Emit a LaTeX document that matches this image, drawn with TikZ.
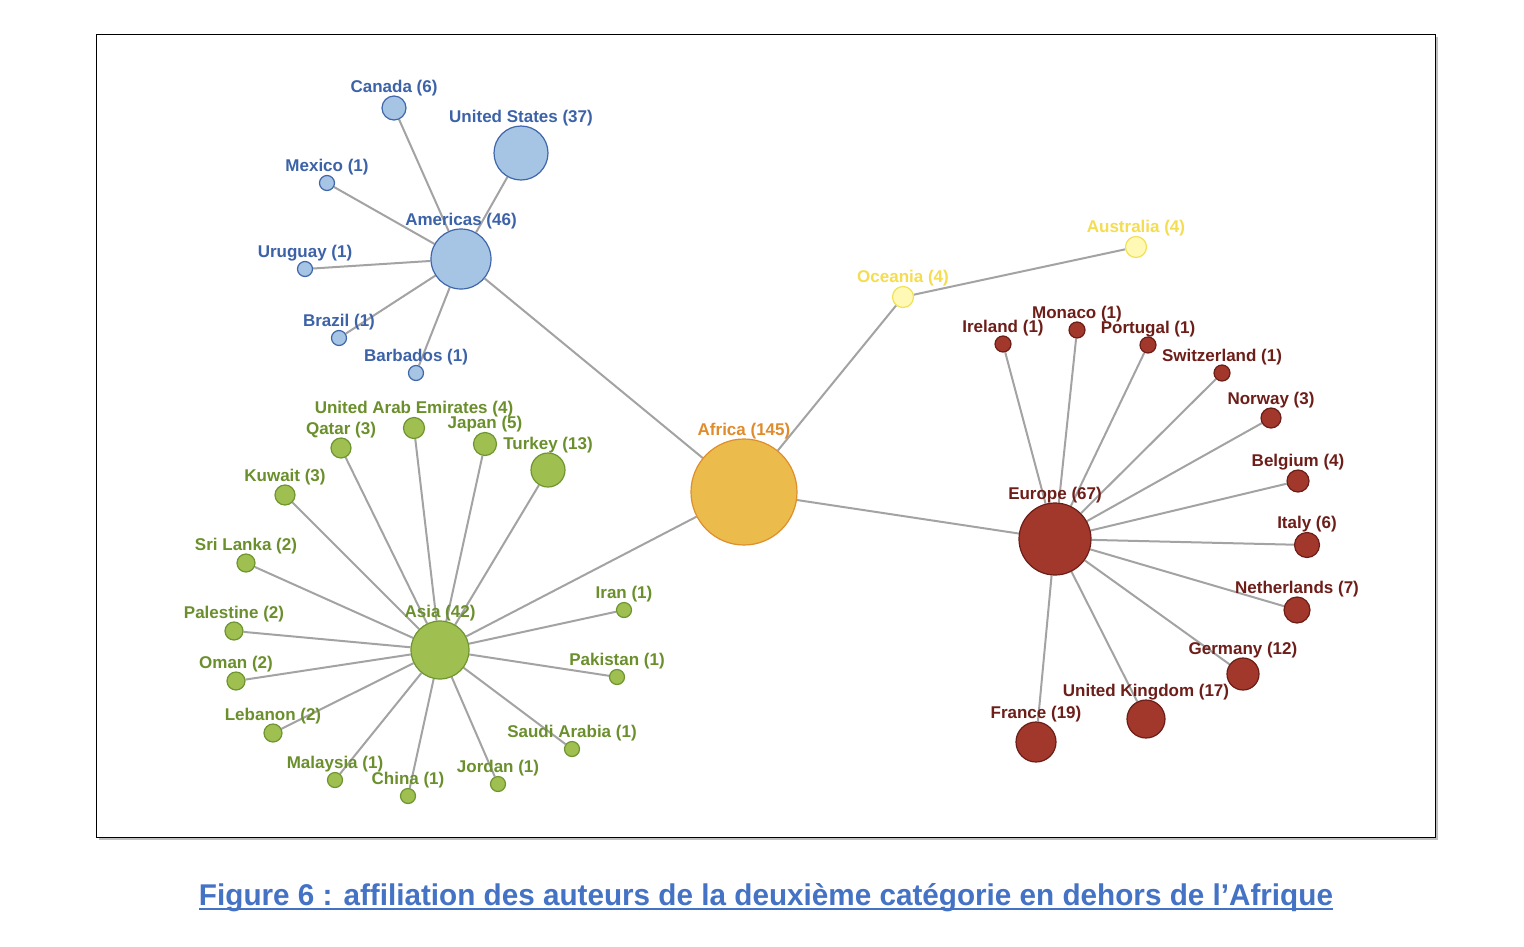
\documentclass[tikz,border=0pt]{standalone}
\usepackage{fontspec}
\setmainfont{Liberation Sans}
\usetikzlibrary{backgrounds}
\definecolor{amfill}{HTML}{A6C4E3}\definecolor{amdraw}{HTML}{3F66AA}\definecolor{amtext}{HTML}{3C62A8}
\definecolor{asfill}{HTML}{9FC051}\definecolor{asdraw}{HTML}{6E9530}\definecolor{astext}{HTML}{6A8F2C}
\definecolor{affill}{HTML}{EBBB4B}\definecolor{afdraw}{HTML}{DF8E2C}\definecolor{aftext}{HTML}{E08C2C}
\definecolor{ocfill}{HTML}{FFF9B5}\definecolor{ocdraw}{HTML}{F2E055}\definecolor{octext}{HTML}{F4DD50}
\definecolor{eufill}{HTML}{A2382B}\definecolor{eudraw}{HTML}{6B1D17}\definecolor{eutext}{HTML}{6D1E19}
\definecolor{edgegray}{HTML}{A3A3A3}\definecolor{captext}{HTML}{4472C4}
\tikzset{
  dot/.style={circle,inner sep=0pt,line width=1.2pt},
  am/.style={dot,fill=amfill,draw=amdraw},
  as/.style={dot,fill=asfill,draw=asdraw},
  af/.style={dot,fill=affill,draw=afdraw},
  oc/.style={dot,fill=ocfill,draw=ocdraw},
  eu/.style={dot,fill=eufill,draw=eudraw},
  am-t/.style={text=amtext},
  as-t/.style={text=astext},
  af-t/.style={text=aftext},
  oc-t/.style={text=octext},
  eu-t/.style={text=eutext},
  lab/.style={inner sep=0pt,anchor=base,font=\fontsize{17}{20}\selectfont\bfseries},
  link/.style={draw=edgegray,line width=2pt}
}
% \mkcountry{name}{x}{y}{r}{group}{text}
\newcommand\mkcountry[6]{%
  \node[#5,minimum size=#4*2pt] (#1) at (#2,#3) {};
  \node[lab,#5-t] (#1-l) at ([yshift=3pt]#1.north) {#6};
}
\begin{document}
\begin{tikzpicture}[x=1pt,y=-1pt]
\useasboundingbox (0,0) rectangle (1524,946);
\begin{pgfonlayer}{background}
\fill[white] (0,0) rectangle (1524,946);
\fill[black!25] (99,37) rectangle (1438,840);
\draw[fill=white,line width=0.8pt] (96,34) rectangle (1435,837);
\end{pgfonlayer}
% Americas
\mkcountry{amer}{461}{259}{30}{am}{Americas (46)}
\mkcountry{us}{521}{153}{27}{am}{United States (37)}
\mkcountry{can}{394}{108}{12}{am}{Canada (6)}
\mkcountry{mex}{327}{183}{7.5}{am}{Mexico (1)}
\mkcountry{uru}{305}{269}{7.5}{am}{Uruguay (1)}
\mkcountry{bra}{339}{338}{7.5}{am}{Brazil (1)}
\mkcountry{bar}{416}{373}{7.5}{am}{Barbados (1)}
% Asia
\mkcountry{asia}{440}{650}{29}{as}{Asia (42)}
\mkcountry{qat}{341}{448}{10}{as}{Qatar (3)}
\mkcountry{uae}{414}{428}{10.5}{as}{United Arab Emirates (4)}
\mkcountry{jap}{485}{444}{11.5}{as}{Japan (5)}
\mkcountry{tur}{548}{470}{17}{as}{Turkey (13)}
\mkcountry{kuw}{285}{495}{10}{as}{Kuwait (3)}
\mkcountry{sri}{246}{563}{9}{as}{Sri Lanka (2)}
\mkcountry{pal}{234}{631}{9}{as}{Palestine (2)}
\mkcountry{oma}{236}{681}{9}{as}{Oman (2)}
\mkcountry{leb}{273}{733}{9}{as}{Lebanon (2)}
\mkcountry{mal}{335}{780}{7.5}{as}{Malaysia (1)}
\mkcountry{chi}{408}{796}{7.5}{as}{China (1)}
\mkcountry{jor}{498}{784}{7.5}{as}{Jordan (1)}
\mkcountry{sau}{572}{749}{7.5}{as}{Saudi Arabia (1)}
\mkcountry{pak}{617}{677}{7.5}{as}{Pakistan (1)}
\mkcountry{ira}{624}{610}{7.5}{as}{Iran (1)}
% Africa, Oceania
\mkcountry{afr}{744}{492}{53}{af}{Africa (145)}
\mkcountry{oce}{903}{297}{10.5}{oc}{Oceania (4)}
\mkcountry{aus}{1136}{247}{10.5}{oc}{Australia (4)}
% Europe
\mkcountry{eur}{1055}{539}{36}{eu}{Europe (67)}
\mkcountry{ire}{1003}{344}{8}{eu}{Ireland (1)}
\mkcountry{mon}{1077}{330}{8}{eu}{Monaco (1)}
\mkcountry{por}{1148}{345}{8}{eu}{Portugal (1)}
\mkcountry{swi}{1222}{373}{8}{eu}{Switzerland (1)}
\mkcountry{nor}{1271}{418}{10}{eu}{Norway (3)}
\mkcountry{bel}{1298}{481}{11}{eu}{Belgium (4)}
\mkcountry{ita}{1307}{545}{12.5}{eu}{Italy (6)}
\mkcountry{net}{1297}{610}{13}{eu}{Netherlands (7)}
\mkcountry{ger}{1243}{674}{16}{eu}{Germany (12)}
\mkcountry{uk}{1146}{719}{19}{eu}{United Kingdom (17)}
\mkcountry{fra}{1036}{742}{20}{eu}{France (19)}
% edges
\begin{pgfonlayer}{background}
\foreach \c in {us,can,mex,uru,bra,bar} \draw[link] (amer) -- (\c);
\foreach \c in {qat,uae,jap,tur,kuw,sri,pal,oma,leb,mal,chi,jor,sau,pak,ira} \draw[link] (asia) -- (\c);
\foreach \c in {ire,mon,por,swi,nor,bel,ita,net,ger,uk,fra} \draw[link] (eur) -- (\c);
\draw[link] (afr) -- (amer);
\draw[link] (afr) -- (asia);
\draw[link] (afr) -- (eur);
\draw[link] (afr) -- (oce);
\draw[link] (oce) -- (aus);
\end{pgfonlayer}
% caption
\node[inner sep=0pt,anchor=base,text=captext,font=\fontsize{30}{32}\selectfont\bfseries] (cap) at (766,905)
  {\resizebox{1134pt}{\height}{Figure 6 : affiliation des auteurs de la deuxième catégorie en dehors de l’Afrique}};
\draw[captext,line width=2pt] ([yshift=-4pt]cap.base west) -- ([yshift=-4pt]cap.base east);
\end{tikzpicture}
\end{document}
